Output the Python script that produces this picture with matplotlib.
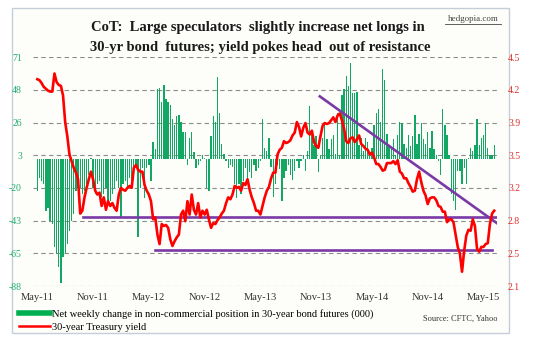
import matplotlib

matplotlib.use('Agg')
import matplotlib.pyplot as plt
from matplotlib.lines import Line2D
from matplotlib.patches import Rectangle

# weekly net change in non-commercial positions (000), May-11 .. May-15
net_change = [
    -22, -13, -15, -17, -36, -34, -43, -45, -61, -66, -75, -86, -68, -66, -59, -50, -43, -38, -22, -20,
    -20, -24, -22, -17, -11, 1, -20, -24, -17, -15, -26, -24, -20, -31, -29, -24, -20, -15, -20, -41,
    -17, -15, -20, -13, -15, -11, -6, -54, -20, -6, -27, -6, -4, -15, 12, 7, 49, 50, 40, 52,
    42, 40, 38, 28, 24, 30, 31, 26, 19, 19, -4, 15, 19, 5, -6, -4, -1, 3, 1, -20,
    -22, 16, 30, 26, 57, 32, 11, 4, -1, -6, -4, -5, -17, -27, -17, -24, -15, -6, -17, -9,
    -13, -4, -8, -6, -1, 28, 8, 6, 15, -5, -26, -17, -4, -7, -29, -13, -8, -4, -11, -14,
    -8, -1, -6, -1, 3, -8, 6, 37, 19, 10, 16, -9, 3, 15, 24, 14, 7, 14, 17, 4,
    32, 3, 45, 49, 58, 51, 67, 46, 46, 47, 10, 15, 6, 15, 12, 3, 8, 24, 32, 35,
    26, 63, 55, 18, 10, 8, 14, 3, 17, 26, 25, 11, 8, 17, 9, 16, 31, 11, 18, 25,
    14, 11, 19, 8, 20, 7, 3, -1, -11, 35, 24, 17, 3, -24, -29, -35, -8, -8, -17, -6,
    -17, 1, 8, 6, 10, 28, 10, 15, 17, 25, 8, 3, 3, 10,
]

# 30-year Treasury yield (%)
yield_30y = [
    4.27, 4.26, 4.23, 4.19, 4.17, 4.15, 4.14, 4.14, 4.33, 4.24, 4.21, 4.20, 4.10, 3.82, 3.67, 3.48, 3.41, 3.34, 3.29, 3.22,
    2.86, 2.89, 3.03, 3.13, 3.22, 3.30, 3.22, 3.10, 3.06, 3.08, 2.94, 3.03, 2.90, 2.99, 2.94, 2.97, 2.92, 2.89, 3.06, 3.13,
    3.11, 3.10, 3.13, 3.15, 3.13, 3.34, 3.37, 3.32, 3.30, 3.30, 3.16, 3.10, 3.06, 2.99, 2.80, 2.82, 2.64, 2.54, 2.75, 2.73,
    2.74, 2.71, 2.59, 2.52, 2.57, 2.61, 2.64, 2.85, 2.89, 2.78, 2.99, 2.85, 3.06, 2.90, 2.85, 2.97, 2.82, 2.89, 2.85, 2.90,
    2.80, 2.71, 2.76, 2.75, 2.79, 2.82, 2.86, 2.89, 2.97, 3.03, 3.01, 3.06, 3.15, 3.13, 3.14, 3.10, 3.18, 3.16, 3.22, 3.11,
    3.03, 2.97, 2.89, 2.89, 2.85, 2.94, 3.03, 3.10, 3.14, 3.23, 3.29, 3.29, 3.48, 3.53, 3.55, 3.62, 3.60, 3.61, 3.63, 3.68,
    3.71, 3.82, 3.77, 3.67, 3.76, 3.81, 3.71, 3.69, 3.73, 3.61, 3.57, 3.55, 3.67, 3.78, 3.81, 3.80, 3.81, 3.84, 3.87, 3.82,
    3.89, 3.91, 3.84, 3.75, 3.62, 3.60, 3.65, 3.66, 3.61, 3.64, 3.68, 3.59, 3.57, 3.54, 3.53, 3.48, 3.50, 3.45, 3.38, 3.38,
    3.35, 3.31, 3.32, 3.39, 3.39, 3.39, 3.41, 3.38, 3.42, 3.30, 3.28, 3.23, 3.23, 3.18, 3.14, 3.09, 3.10, 3.22, 3.30, 3.19,
    3.10, 3.05, 2.96, 3.02, 3.03, 3.03, 3.00, 2.94, 2.93, 2.88, 2.88, 2.77, 2.80, 2.80, 2.77, 2.64, 2.51, 2.44, 2.25, 2.47,
    2.63, 2.69, 2.68, 2.80, 2.73, 2.49, 2.46, 2.51, 2.51, 2.54, 2.55, 2.75, 2.86, 2.89,
]

tick_labels = ['May-11', 'Nov-11', 'May-12', 'Nov-12', 'May-13', 'Nov-13', 'May-14', 'Nov-14', 'May-15']
left_labels = ['-88', '-65', '-43', '-20', '3', '26', '48', '71']
right_labels = ['2.1', '2.5', '2.8', '3.2', '3.5', '3.9', '4.2', '4.5']

# hand-drawn trend lines on the yield axis: (x0, x1), (y0, y1)
support_x, support_y = [55, 212], [2.48, 2.48]
resist_x, resist_y = [21.5, 214], [2.82, 2.82]
downtrend_x, downtrend_y = [131.7, 216.7], [4.09, 2.72]

serif = 'Liberation Serif'
green = '#12a864'
purple = '#7a3aa6'

W, H = 534, 350
fig = plt.figure(figsize=(W / 100, H / 100), dpi=100)
fig.patch.set_facecolor('white')

# chart border
fig.patches.append(Rectangle((12 / W, 1 - 333 / H), 497 / W, 325 / H, transform=fig.transFigure,
                             facecolor='#fdfdfa', edgecolor='#c5cdd8', lw=1.0, zorder=-5))

ax = fig.add_axes([33 / W, 1 - 286 / H, 464 / W, 228.7 / H])
ax.set_facecolor('none')
ax2 = ax.twinx()

x = list(range(len(net_change)))
ax.bar(x, net_change, width=0.62, color=green, linewidth=0, zorder=2)
ax.set_ylim(-88, 71)
ax.set_xlim(-2.0, 214.3)
lt = [-88 + k * 159 / 7 for k in range(8)]
ax.set_yticks(lt)
ax.set_yticklabels(left_labels, family=serif, fontsize=7, color='#1fae6e')
ax.set_xticks(list(range(0, 209, 26)))
ax.set_xticklabels(tick_labels, family=serif, fontsize=7.6, color='#333333')
ax.tick_params(axis='both', length=0)
ax.tick_params(axis='x', pad=5)
ax.tick_params(axis='y', pad=8)
for yv in lt:
    ax.axhline(yv, color='#8c8c8c', lw=0.8, ls=(0, (4, 3)), zorder=1)
for s in ax.spines.values():
    s.set_visible(False)

ax2.plot(support_x, support_y, color=purple, lw=1.9, zorder=3)
ax2.plot(resist_x, resist_y, color=purple, lw=1.9, zorder=3)
ax2.plot(downtrend_x, downtrend_y, color=purple, lw=1.9, zorder=3)
ax2.plot(x, yield_30y, color='#ff0000', lw=1.9, zorder=4)
ax2.set_ylim(2.1, 4.5)
ax2.set_yticks([2.1 + k * 2.4 / 7 for k in range(8)])
ax2.set_yticklabels(right_labels, family=serif, fontsize=7, color='#e0302a')
ax2.tick_params(axis='y', length=0, pad=8)
for s in ax2.spines.values():
    s.set_visible(False)

fig.text(258 / W, 1 - 27 / H, 'CoT:  Large speculators  slightly increase net longs in',
         ha='center', va='center', family=serif, fontsize=10.5, fontweight='bold', color='#1a1a1a')
fig.text(260 / W, 1 - 47 / H, '30-yr bond  futures; yield pokes head  out of resistance',
         ha='center', va='center', family=serif, fontsize=10.5, fontweight='bold', color='#1a1a1a')

fig.text(473 / W, 1 - 19 / H, 'hedgopia.com', ha='center', va='center', family=serif,
         fontsize=6.5, color='#444444')
fig.add_artist(Line2D([445 / W, 501 / W], [1 - 24 / H, 1 - 24 / H], color='#444444', lw=0.6))

handles = [Line2D([], [], color='#00b050', lw=4), Line2D([], [], color='#ff0000', lw=1.8)]
labels = ['Net weekly change in non-commercial position in 30-year bond futures (000)',
          '30-year Treasury yield']
fig.legend(handles, labels, loc='upper left', bbox_to_anchor=(19 / W, 1 - 309 / H), frameon=False,
           prop={'family': serif, 'size': 7.5}, handlelength=3.0, handletextpad=0.15,
           labelspacing=0.35, borderpad=0, borderaxespad=0)

fig.text(498 / W, 1 - 319 / H, 'Source: CFTC, Yahoo', ha='right', va='center', family=serif,
         fontsize=6, color='#333333')

plt.savefig('out.png', dpi=100)
plt.close()
